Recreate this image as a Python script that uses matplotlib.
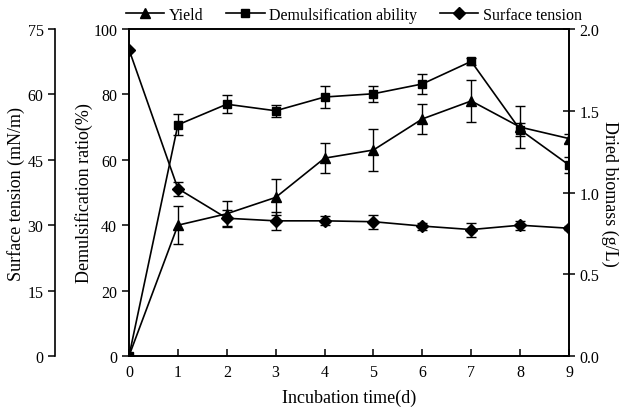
import matplotlib.pyplot as plt
from matplotlib.lines import Line2D

plt.rcParams['font.family'] = ['Liberation Serif', 'DejaVu Serif']

days = [0, 1, 2, 3, 4, 5, 6, 7, 8, 9]

# demulsification ratio (%)
demul = [0, 70.7, 77.0, 75.0, 79.2, 80.2, 83.2, 90.1, 69.2, 58.4]
demul_err = [0, 3.2, 2.7, 1.8, 3.3, 2.4, 3.0, 1.0, 2.0, 2.5]

# dried biomass (g/L)
yield_ = [0, 0.80, 0.87, 0.97, 1.21, 1.26, 1.45, 1.56, 1.40, 1.33]
yield_err = [0, 0.115, 0.08, 0.11, 0.09, 0.13, 0.09, 0.13, 0.13, 0.03]

# surface tension (mN/m)
tension = [70.3, 38.4, 31.6, 31.0, 31.0, 30.8, 29.8, 29.0, 30.0, 29.3]
tension_err = [0, 1.6, 1.8, 2.0, 1.0, 1.6, 0.8, 1.6, 1.0, 0.5]

fig = plt.figure(figsize=(6.22, 4.14), dpi=100)
ax = fig.add_axes([0.2074, 0.1377, 0.7074, 0.7898])
ax_r = ax.twinx()
ax_l = ax.twinx()

kw = dict(color='black', lw=1.2, capsize=3.5, elinewidth=1.0, capthick=1.0)

ax_r.errorbar(days, yield_, yerr=yield_err, marker='^', ms=7.5, **kw)
ax.errorbar(days, demul, yerr=demul_err, marker='s', ms=6, **kw)
ax_l.errorbar(days, tension, yerr=tension_err, marker='D', ms=6, **kw)

ax.set_xlim(0, 9)
ax.set_ylim(0, 100)
ax.set_xticks(days)
ax.set_yticks([0, 20, 40, 60, 80, 100])
ax_r.set_ylim(0, 2.0)
ax_r.set_yticks([0.0, 0.5, 1.0, 1.5, 2.0])
ax_r.set_yticklabels(['0.0', '0.5', '1.0', '1.5', '2.0'])
ax_l.set_ylim(0, 75)
ax_l.set_yticks([0, 15, 30, 45, 60, 75])

ax_l.yaxis.set_label_position('left')
ax_l.yaxis.set_ticks_position('left')
ax_l.spines['left'].set_position(('outward', 53))
ax_l.spines['left'].set_visible(True)
for s in ['right', 'top', 'bottom']:
    ax_l.spines[s].set_visible(False)

for a in (ax, ax_r, ax_l):
    for s in a.spines.values():
        s.set_linewidth(1.2)

ax.tick_params(axis='x', direction='in', length=5, labelsize=11.5, width=1.1, pad=6)
ax.tick_params(axis='y', direction='out', length=5, labelsize=11.5, width=1.1)
ax_r.tick_params(axis='y', direction='inout', length=8, labelsize=11.5, width=1.1)
ax_l.tick_params(axis='y', direction='out', length=5, labelsize=11.5, width=1.1)

ax.set_xlabel('Incubation time(d)', fontsize=13, labelpad=6)
ax.set_ylabel('Demulsification ratio(%)', fontsize=13, labelpad=0)
ax_r.set_ylabel('Dried biomass (g/L)', fontsize=13, rotation=270, labelpad=14)
ax_l.set_ylabel('Surface tension (mN/m)', fontsize=13, labelpad=2)

handles = [
    Line2D([], [], color='black', lw=1.2, marker='^', ms=7.5),
    Line2D([], [], color='black', lw=1.2, marker='s', ms=6),
    Line2D([], [], color='black', lw=1.2, marker='D', ms=6),
]
labels = ['Yield', 'Demulsification ability', 'Surface tension']
fig.legend(handles, labels, loc='center', bbox_to_anchor=(0.569, 0.962), ncol=3,
           frameon=False, fontsize=11.5, handlelength=2.4, columnspacing=1.4,
           handletextpad=0.3)

fig.savefig('out.png', dpi=100)
